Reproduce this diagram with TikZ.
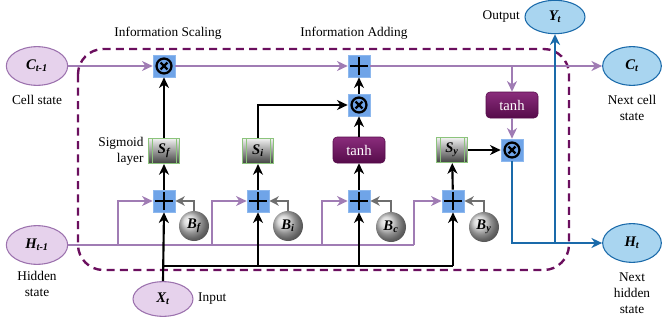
\documentclass[tikz,border=0pt]{standalone}
\usepackage{fontspec}
\setmainfont{Liberation Serif}
\usetikzlibrary{arrows.meta,shapes.geometric}

\definecolor{cellpurple}{HTML}{A07CB4}
\definecolor{ovalpurple}{HTML}{E6D2EC}
\definecolor{ovalpurpleline}{HTML}{9C72AE}
\definecolor{ovalblue}{HTML}{A9D5F0}
\definecolor{outblue}{HTML}{1A6AAA}
\definecolor{boxblue}{HTML}{6FA4E8}
\definecolor{boxblueline}{HTML}{8DB8EE}
\definecolor{tanhtop}{HTML}{8A2C7C}
\definecolor{tanhbot}{HTML}{560C4A}
\definecolor{framepurple}{HTML}{6B0F5E}
\definecolor{sigline}{HTML}{8CC47C}
\definecolor{biasgray}{HTML}{6E6E6E}

\begin{document}
\begin{tikzpicture}[x=0.75pt, y=-0.75pt,
                        stateold/.style={ellipse, draw=ovalpurpleline, fill=ovalpurple, line width=0.8pt,
                                         minimum width=46pt, minimum height=29pt, inner sep=0pt,
                                         font=\fontsize{11}{12}\selectfont\bfseries\itshape},
                        statenew/.style={ellipse, draw=outblue, fill=ovalblue, line width=0.8pt,
                                         minimum width=44pt, minimum height=29pt, inner sep=0pt,
                                         font=\fontsize{11}{12}\selectfont\bfseries\itshape},
                        bluebox/.style={rectangle, draw=boxblueline, fill=boxblue, line width=0.5pt,
                                        minimum size=16.5pt, inner sep=0pt},
                        mulbox/.style={bluebox, path picture={
                                \draw[black, line width=1.7pt] (path picture bounding box.center) circle (5.6pt);
                                \draw[black, line width=1.7pt] ([shift={(-2.6pt,-2.6pt)}]path picture bounding box.center) -- ([shift={(2.6pt,2.6pt)}]path picture bounding box.center);
                                \draw[black, line width=1.7pt] ([shift={(-2.6pt,2.6pt)}]path picture bounding box.center) -- ([shift={(2.6pt,-2.6pt)}]path picture bounding box.center);}},
                        addbox/.style={bluebox, path picture={
                                \draw[black, line width=2.2pt] ([xshift=-6.5pt]path picture bounding box.center) -- ([xshift=6.5pt]path picture bounding box.center);
                                \draw[black, line width=2.2pt] ([yshift=-6.5pt]path picture bounding box.center) -- ([yshift=6.5pt]path picture bounding box.center);}},
                        tanhbox/.style={rectangle, rounded corners=3pt, top color=tanhtop, bottom color=tanhbot, draw=tanhbot,
                                        minimum width=39pt, minimum height=19.5pt, inner sep=0pt, text=white,
                                        font=\fontsize{11}{12}\selectfont},
                        sigbox/.style={rectangle, draw=sigline, line width=0.6pt, top color=gray!10, bottom color=gray!50!black,
                                       minimum width=23pt, minimum height=19pt, inner sep=0pt,
                                       font=\fontsize{11}{12}\selectfont\bfseries\itshape,
                                       path picture={
                                \draw[sigline, line width=0.5pt] ([xshift=2.5pt]path picture bounding box.north west) -- ([xshift=2.5pt]path picture bounding box.south west);
                                \draw[sigline, line width=0.5pt] ([xshift=-2.5pt]path picture bounding box.north east) -- ([xshift=-2.5pt]path picture bounding box.south east);}},
                        biasball/.style={circle, ball color=gray!40, minimum size=22.5pt, inner sep=0pt,
                                         font=\fontsize{11}{12}\selectfont\bfseries\itshape},
                        cellarrow/.style={cellpurple, line width=1.6pt, -{Stealth[length=8pt,width=7.5pt,inset=2.5pt]}},
                        blackarrow/.style={black, line width=1.6pt, -{Stealth[length=8pt,width=7.5pt,inset=2.5pt]}},
                        biasarrow/.style={biasgray, line width=1.6pt, -{Stealth[length=7pt,width=7pt,inset=2pt]}},
                        outarrow/.style={outblue, line width=1.8pt, -{Stealth[length=8pt,width=7.5pt,inset=2.5pt]}},
                        label/.style={font=\fontsize{10}{12}\selectfont, align=center}]
                        \useasboundingbox (0,0) rectangle (662,325);
                        
                        % dashed cell frame
                        \draw[framepurple, line width=1.8pt, dash pattern=on 6pt off 4pt, rounded corners=19pt] (78,49) rectangle (569,270);
                        
                        \node[label] (scaling) at (168,33) {Information Scaling};
                        \node[label] (adding) at (354,33) {Information Adding};
                        
                        % inputs and outputs
                        \node[stateold] (ct1) at (37,66) {C\textsubscript{t-1}};
                        \node[label] (ct1txt) at (37,100) {Cell state};
                        \node[stateold] (ht1) at (37,245) {H\textsubscript{t-1}};
                        \node[label] (ht1txt) at (37,284) {Hidden\\state};
                        \node[stateold, minimum width=45pt, minimum height=26pt] (xt) at (163,299) {X\textsubscript{t}};
                        \node[label, anchor=west] (xttxt) at (xt.east) {Input};
                        \node[statenew] (ct) at (632,66) {C\textsubscript{t}};
                        \node[label] (cttxt) at (632,108) {Next cell\\state};
                        \node[statenew, minimum width=45pt, minimum height=25pt] (yt) at (555,17) {Y\textsubscript{t}};
                        \node[label, anchor=east] (yttxt) at (yt.west) {Output};
                        \node[statenew] (ht) at (632,243) {H\textsubscript{t}};
                        \node[label] (httxt) at (632,293) {Next\\hidden\\state};
                        
                        % cell state path
                        \node[mulbox] (mulf) at (164,66) {};
                        \node[addbox] (addc) at (359,66) {};
                        \node[mulbox] (muli) at (359,105) {};
                        \node[tanhbox] (tanhc) at (359,150) {tanh};
                        \node[tanhbox] (tanho) at (512,105) {tanh};
                        \node[mulbox] (mulo) at (512,150) {};
                        
                        % sigmoid layers
                        \node[sigbox] (sigf) at (164,151) {S\textsubscript{f}};
                        \node[sigbox] (sigi) at (258,151) {S\textsubscript{i}};
                        \node[sigbox] (sigy) at (452,150) {S\textsubscript{y}};
                        \node[label, align=right, anchor=east] (sigtxt) at (sigf.west) {Sigmoid\\layer};
                        
                        % sums and biases
                        \node[addbox] (sumf) at (164,201) {};
                        \node[addbox] (sumi) at (258,201) {};
                        \node[addbox] (sumc) at (359,201) {};
                        \node[addbox] (sumy) at (453,201) {};
                        \node[biasball] (biasf) at (194,226) {B\textsubscript{f}};
                        \node[biasball] (biasi) at (288,226) {B\textsubscript{i}};
                        \node[biasball] (biasc) at (391,227) {B\textsubscript{c}};
                        \node[biasball] (biasy) at (484,227) {B\textsubscript{y}};
                        
                        \coordinate (hf) at (118,245);
                        \coordinate (hi) at (212,245);
                        \coordinate (hc) at (322,245);
                        \coordinate (hy) at (414,245);
                        \coordinate (xbus) at (164,266);
                        
                        % hidden state line
                        \draw[cellpurple, line width=1.6pt] (ht1.east) -- (hy);
                        \draw[cellarrow] (hf) |- (sumf.west);
                        \draw[cellarrow] (hi) |- (sumi.west);
                        \draw[cellarrow] (hc) |- (sumc.west);
                        \draw[cellarrow] (hy) |- (sumy.west);
                        
                        % input line
                        \draw[black, line width=1.6pt] (xbus) -- (sumy.south |- xbus);
                        \draw[blackarrow] (xt.north) -- (sumf.south);
                        \draw[blackarrow] (sumi.south |- xbus) -- (sumi.south);
                        \draw[blackarrow] (sumc.south |- xbus) -- (sumc.south);
                        \draw[blackarrow] (sumy.south |- xbus) -- (sumy.south);
                        
                        % biases
                        \draw[biasarrow] (biasf.north) |- (sumf.east);
                        \draw[biasarrow] (biasi.north) |- (sumi.east);
                        \draw[biasarrow] (biasc.north) |- (sumc.east);
                        \draw[biasarrow] (biasy.north) |- (sumy.east);
                        
                        % gates
                        \draw[blackarrow] (sumf) -- (sigf);
                        \draw[blackarrow] (sumi) -- (sigi);
                        \draw[blackarrow] (sumc) -- (tanhc);
                        \draw[blackarrow] (sumy) -- (sigy);
                        \draw[blackarrow] (sigf) -- (mulf);
                        \draw[blackarrow] (sigi.north) |- (muli.west);
                        \draw[blackarrow] (tanhc) -- (muli);
                        \draw[blackarrow] (muli) -- (addc);
                        \draw[blackarrow] (sigy) -- (mulo);
                        
                        % cell state
                        \draw[cellarrow] (ct1) -- (mulf);
                        \draw[cellarrow] (mulf) -- (addc);
                        \draw[cellarrow] (addc) -- (ct);
                        \draw[cellarrow] (tanho.north |- addc.east) -- (tanho);
                        \draw[cellarrow] (tanho) -- (mulo);
                        
                        % output
                        \draw[outarrow] (mulo.south) |- (ht.west);
                        \draw[outarrow] (yt.south |- ht.west) -- (yt.south);
                    \end{tikzpicture}
\end{document}
